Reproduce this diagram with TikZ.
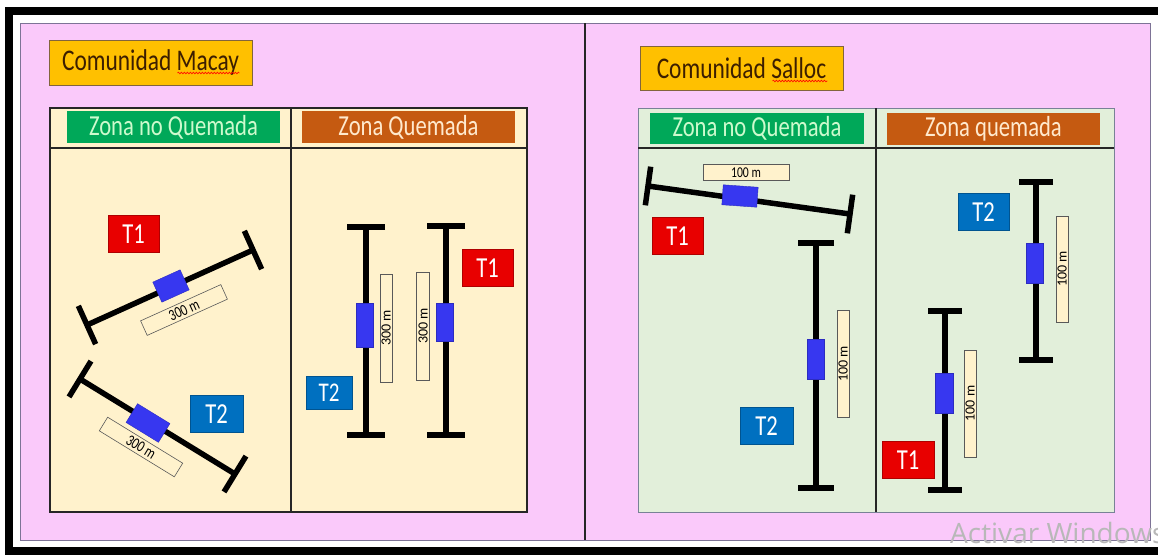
\documentclass[tikz,border=0pt]{standalone}
\usepackage{fontspec}
\setmainfont{Carlito}
\newfontfamily\wmfont{Open Sans}
\usetikzlibrary{calc,decorations.pathmorphing}
\definecolor{pinkbg}{RGB}{250,201,250}
\definecolor{cream}{RGB}{255,242,204}
\definecolor{mint}{RGB}{226,239,218}
\definecolor{hdrgreen}{RGB}{0,168,89}
\definecolor{hdrbrown}{RGB}{197,90,17}
\definecolor{orng}{RGB}{255,192,0}
\definecolor{tred}{RGB}{232,0,0}
\definecolor{tblue}{RGB}{0,112,192}
\definecolor{mblue}{RGB}{55,55,240}
\definecolor{pframe}{RGB}{125,115,150}
\definecolor{minttxt}{RGB}{205,250,205}
\definecolor{creamtxt}{RGB}{255,233,205}
\definecolor{commtxt}{RGB}{60,30,0}
\newcommand\nar[1]{\scalebox{0.78}[1]{#1}}
\newcommand\fsz[1]{\fontsize{#1}{#1}\selectfont}
\newcommand\transect[4]{% name, start, end, cap half length
  \coordinate (#1a) at #2;
  \coordinate (#1b) at #3;
  \draw[tline] (#1a) -- (#1b);
  \draw[tline] ($(#1a)!#4!90:(#1b)$) -- ($(#1a)!#4!-90:(#1b)$);
  \draw[tline] ($(#1b)!#4!90:(#1a)$) -- ($(#1b)!#4!-90:(#1a)$);
}
\tikzset{
  tline/.style={line width=5.5pt, black, line cap=butt},
  comm/.style={draw={rgb,255:red,130;green,100;blue,60}, line width=0.9pt, fill=orng,
    inner sep=0pt, minimum width=203pt, minimum height=45pt, font=\fsz{30}, text=commtxt},
  zhdr/.style={inner sep=0pt, minimum width=213pt, minimum height=32pt, font=\fsz{29}},
  tag/.style={inner sep=0pt, minimum width=51pt, minimum height=37pt, font=\fsz{29},
    text=white, line width=0.8pt},
  lab/.style={draw=black!65, line width=0.6pt, fill=cream, inner sep=0pt, font=\fsz{14}, text=black},
  mrk/.style={fill=mblue, draw=mblue!80!black, line width=0.4pt, inner sep=0pt},
  spell/.style={red, line width=0.6pt, decorate, decoration={snake, amplitude=0.9pt, segment length=3pt}},
  panel/.style={draw=pframe, line width=0.8pt, fill=pinkbg}
}
\begin{document}
\begin{tikzpicture}[x=1pt,y=-1pt]
\useasboundingbox (0,0) rectangle (1158,555);
\fill[white] (0,0) rectangle (1158,555);
% outer black frame
\fill[black] (5,7) rectangle (1158,15);
\fill[black] (5,7) rectangle (13,555);
\fill[black] (5,547) rectangle (1158,555);
% panels
\draw[panel] (20,23) rectangle (585,540);
\draw[panel] (585,23) rectangle (1150,540);
\draw[black!85, line width=1.4pt] (585,23) -- (585,540);

% ===== Left: Comunidad Macay =====
\node[comm] (mac) at (150.5,62.5) {\nar{Comunidad Macay}};
\draw[spell] ($(mac.east)+(-75,10.5)$) -- ($(mac.east)+(-13,10.5)$);
\draw[black!85, line width=1.1pt, fill=cream] (50,108) rectangle (527,512);
\draw[black!85, line width=1.1pt] (50,148) -- (527,148);
\draw[black!85, line width=1.1pt] (291,108) -- (291,512);
\node[zhdr, fill=hdrgreen, text=minttxt] (lzn) at (173.5,127) {\nar{Zona no Quemada}};
\node[zhdr, fill=hdrbrown, text=creamtxt] (lzq) at (408.5,127) {\nar{Zona Quemada}};

% left column transects
\transect{L1}{(87,325)}{(253,250)}{21pt}
\node[mrk, minimum width=30pt, minimum height=22pt, rotate=24.3] (L1m) at (171,286) {};
\node[lab, fill=none, minimum width=88pt, minimum height=16pt, rotate=24.3, font=\fsz{16}] (L1l) at (184,310) {\nar{300 m}};
\transect{L2}{(80,379)}{(235,474)}{21pt}
\node[mrk, minimum width=38pt, minimum height=22pt, rotate=-31.5] (L2m) at (148,423) {};
\node[lab, fill=none, minimum width=88pt, minimum height=16pt, rotate=-31.5, font=\fsz{16}] (L2l) at (141,447) {\nar{300 m}};
\node[tag, fill=tred, draw=tred!75!black] (lT1) at (133.5,234) {\nar{T1}};
\node[tag, fill=tblue, draw=tblue!75!black, minimum width=53pt] (lT2) at (216.5,414) {\nar{T2}};

% right column transects
\transect{L3}{(366,227)}{(366,435)}{19pt}
\node[mrk, minimum width=17pt, minimum height=44pt] (L3m) at (365,325) {};
\node[lab, fill=none, minimum width=108pt, minimum height=12pt, rotate=90] (L3l) at (386,328) {300 m};
\transect{L4}{(446,226)}{(446,435)}{19pt}
\node[mrk, minimum width=17pt, minimum height=38pt] (L4m) at (445,322) {};
\node[lab, fill=none, minimum width=108pt, minimum height=13pt, rotate=90] (L4l) at (423,326) {300 m};
\node[tag, fill=tblue, draw=tblue!75!black, minimum width=46pt, minimum height=33pt, font=\fsz{27}] (lT2b) at (329,393) {\nar{T2}};
\node[tag, fill=tred, draw=tred!75!black] (lT1b) at (487.5,268) {\nar{T1}};

% ===== Right: Comunidad Salloc =====
\node[comm, minimum height=44pt] (sal) at (741.5,68) {\nar{Comunidad Salloc}};
\draw[spell] ($(sal.east)+(-71,13)$) -- ($(sal.east)+(-16,13)$);
\draw[draw={rgb,255:red,120;green,130;blue,150}, line width=1pt, fill=mint] (638,108) rectangle (1114,512);
\draw[black!85, line width=1.1pt] (638,148) -- (1114,148);
\draw[black!85, line width=1.1pt] (876,108) -- (876,512);
\node[zhdr, minimum width=214pt, minimum height=31pt, fill=hdrgreen, text=minttxt] (rzn) at (757,128.5) {\nar{Zona no Quemada}};
\node[zhdr, fill=hdrbrown, text=creamtxt] (rzq) at (993.5,129) {\nar{Zona quemada}};

% left column
\transect{R1}{(648,186)}{(850,214)}{19.5pt}
\node[mrk, minimum width=35pt, minimum height=20pt, rotate=-4] (R1m) at (740,196) {};
\node[lab, minimum width=86pt, minimum height=16pt, font=\fsz{15}] (R1l) at (746,172.5) {\nar{100 m}};
\node[tag, fill=tred, draw=tred!75!black] (rT1) at (677.5,236) {\nar{T1}};
\transect{R2}{(816,243)}{(816,488)}{18pt}
\node[mrk, minimum width=17pt, minimum height=40pt] (R2m) at (816,359) {};
\node[lab, minimum width=107pt, minimum height=12pt, rotate=90] (R2l) at (843,364) {100 m};
\node[tag, fill=tblue, draw=tblue!75!black, minimum width=53pt] (rT2) at (766.5,426) {\nar{T2}};

% right column
\transect{R3}{(945,311)}{(945,490)}{17pt}
\node[mrk, minimum width=18pt, minimum height=40pt] (R3m) at (944,393) {};
\node[lab, minimum width=107pt, minimum height=12pt, rotate=90] (R3l) at (970,403.5) {100 m};
\node[tag, fill=tred, draw=tred!75!black, minimum width=52pt] (rT1b) at (908,460) {\nar{T1}};
\transect{R4}{(1036,182)}{(1036,360)}{17pt}
\node[mrk, minimum width=17pt, minimum height=40pt] (R4m) at (1035,263) {};
\node[lab, minimum width=106pt, minimum height=12pt, rotate=90] (R4l) at (1062,269) {100 m};
\node[tag, fill=tblue, draw=tblue!75!black] (rT2b) at (983.5,212) {\nar{T2}};

% watermark
\begin{scope}
\clip (0,0) rectangle (1158,555);
\node[anchor=base west, inner sep=0pt, font=\wmfont\fsz{28}, text=black!28] (wm) at (950,543) {Activar Windows};
\end{scope}
\end{tikzpicture}
\end{document}
